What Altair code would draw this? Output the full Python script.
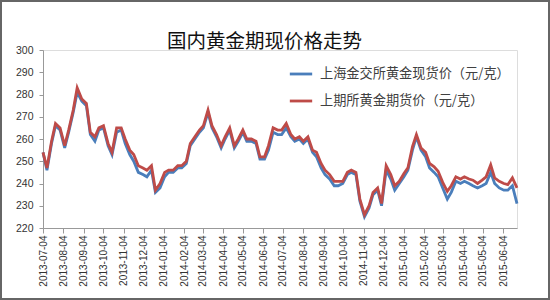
import altair as alt
import pandas as pd

# Series values (roughly weekly samples)
spot = [254, 246, 258, 266, 264, 256, 263, 272, 281, 277, 275, 262, 259, 264, 265, 257, 253, 263, 264, 258,
        253, 250, 245, 244, 243, 246, 236, 238, 243, 245, 245, 247, 247, 249, 257, 260, 263, 265, 272, 265,
        261, 256, 260, 264, 256, 259, 263, 259, 259, 258, 251, 251, 255, 263, 262, 262, 265, 261, 259, 260,
        258, 260, 254, 252, 247, 244, 242, 239, 239, 240, 244, 245, 244, 232, 225, 229, 235, 237, 230, 246,
        242, 237, 240, 243, 246, 255, 261, 255, 252, 247, 245, 243, 238, 233, 236, 241, 240, 241, 240, 239,
        238, 239, 240, 245, 240, 238, 237, 237, 239, 231]
futures = [254, 247, 259, 267, 265, 257, 264, 273, 283, 278, 276, 263, 261, 265, 266, 258, 254, 265, 265, 260,
           255, 253, 248, 247, 246, 248, 237, 240, 245, 246, 246, 248, 248, 250, 258, 261, 264, 266, 273, 266,
           262, 257, 261, 265, 257, 260, 264, 260, 260, 259, 252, 252, 257, 265, 264, 264, 267, 262, 260, 261,
           259, 261, 255, 254, 249, 246, 244, 241, 241, 241, 245, 246, 245, 233, 226, 230, 236, 238, 231, 248,
           244, 239, 241, 244.5, 247, 256.6, 262, 256, 254, 249, 247.5, 245.5, 240.5, 236.5, 239, 243, 242, 243, 242, 241.5,
           240, 241.5, 243, 248.4, 242.5, 241, 240, 239.5, 242.5, 238]

series_names = ["上海金交所黄金现货价（元/克）", "上期所黄金期货价（元/克）"]
colors = ["#4A7EBB", "#BE4B48"]
title_text = "国内黄金期现价格走势"
y_ticks = [220, 230, 240, 250, 260, 270, 280, 290, 300]
tick_months = [(2013, m) for m in range(7, 13)] + [(2014, m) for m in range(1, 13)] + [(2015, m) for m in range(1, 7)]

dates = pd.date_range("2013-07-04", "2015-06-25", periods=len(spot)).strftime("%Y-%m-%d")

df = pd.concat([
    pd.DataFrame({"date": dates, "price": spot, "series": series_names[0]}),
    pd.DataFrame({"date": dates, "price": futures, "series": series_names[1]}),
])

W, H = 474, 178
PL, PT, PR, PB = 43, 50, 33, 72

x_enc = alt.X(
    "date:T",
    scale=alt.Scale(type="utc", domain=[alt.DateTime(year=2013, month=7, date=4, utc=True),
                                         alt.DateTime(year=2015, month=6, date=25, utc=True)]),
    axis=alt.Axis(
        values=[alt.DateTime(year=y, month=m, date=4, utc=True) for y, m in tick_months],
        format="%Y-%m-%d", labelAngle=270, labelFontSize=10, labelFont="Liberation Sans",
        labelColor="#333333", tickSize=5, tickColor="#999999", domainColor="#999999",
        labelPadding=2, grid=False, title=None, labelOverlap=False, labelFlush=False,
    ),
)
y_enc = alt.Y(
    "price:Q",
    scale=alt.Scale(domain=[220, 300], nice=False, zero=False),
    axis=alt.Axis(values=y_ticks, labelFontSize=10.5, labelFont="Liberation Sans", labelColor="#333333",
                  tickSize=4, tickColor="#999999", domainColor="#999999", labelPadding=6,
                  grid=False, title=None),
)
color_enc = alt.Color(
    "series:N",
    scale=alt.Scale(domain=series_names, range=colors),
    legend=alt.Legend(
        orient="none", legendX=245, legendY=11, title=None, symbolType="stroke",
        symbolSize=500, symbolStrokeWidth=2.8, labelFont="Noto Sans CJK SC", labelFontSize=13.2,
        labelColor="#404040", rowPadding=7, labelOffset=6, padding=0, labelLimit=300,
    ),
)

base = alt.Chart(df).encode(x=x_enc, y=y_enc, color=color_enc)
blue = base.transform_filter(alt.datum.series == series_names[0]).mark_line(strokeWidth=2.8)
red = base.transform_filter(alt.datum.series == series_names[1]).mark_line(strokeWidth=2.8)

frame = alt.Chart(alt.Data(values=[{}])).mark_rect(fill=None, stroke="#666666", strokeWidth=2).encode(
    x=alt.value(-PL + 1), x2=alt.value(W + PR - 1), y=alt.value(-PT + 1), y2=alt.value(H + PB - 1)
)

title = alt.Chart(alt.Data(values=[{}])).mark_text(
    font="Noto Sans CJK SC", fontSize=19.5, color="#111111", align="center", baseline="middle"
).encode(x=alt.value(221.5), y=alt.value(-8), text=alt.value(title_text))

chart = alt.layer(blue, red, frame, title).properties(
    width=W, height=H,
    autosize=alt.AutoSizeParams(type="none"),
    padding={"left": PL, "top": PT, "right": PR, "bottom": PB},
).configure_view(stroke=None).configure(background="white")

chart.save("out.html", embed_options={"renderer": "svg", "actions": False})
